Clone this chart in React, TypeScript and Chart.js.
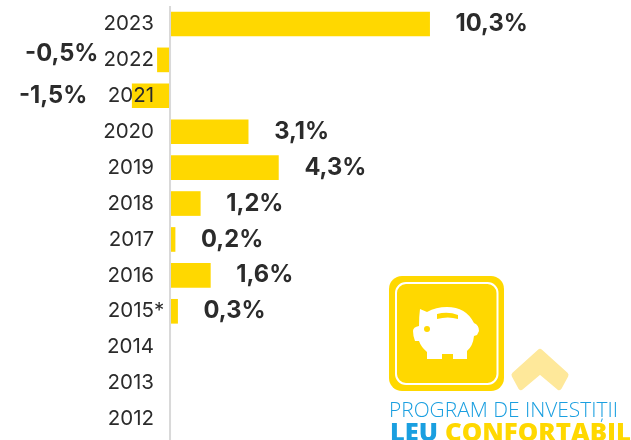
import React, { useEffect, useRef } from "react";
import { Chart, registerables } from "chart.js";

Chart.register(...registerables);

const years = ["2023", "2022", "2021", "2020", "2019", "2018", "2017", "2016", "2015*", "2014", "2013", "2012"];
const growth = [10.3, -0.5, -1.5, 3.1, 4.3, 1.2, 0.2, 1.6, 0.3, null, null, null];
const valueLabels = ["10,3%", "-0,5%", "-1,5%", "3,1%", "4,3%", "1,2%", "0,2%", "1,6%", "0,3%", "", "", ""];

const YELLOW = "#ffd800";
const INK = "#2b2b2b";
const BLUE = "#1a9fe0";
const FONT = "Inter, 'Noto Sans', sans-serif";

const labelsPlugin = {
  id: "chartLabels",
  afterDatasetsDraw(chart: any) {
    const { ctx, scales } = chart;
    const zeroX = scales.x.getPixelForValue(0);
    ctx.save();

    // axis line
    ctx.strokeStyle = "#d9d9d9";
    ctx.lineWidth = 2;
    ctx.beginPath();
    ctx.moveTo(zeroX, 6);
    ctx.lineTo(zeroX, 440);
    ctx.stroke();

    // category labels: digits right-aligned, a footnote star hangs past the edge
    ctx.font = `400 20.5px ${FONT}`;
    ctx.fillStyle = INK;
    ctx.textBaseline = "middle";
    ctx.textAlign = "left";
    years.forEach((year, i) => {
      const digitsWidth = ctx.measureText(year.replace("*", "")).width;
      ctx.fillText(year, zeroX - 16 - digitsWidth, scales.y.getPixelForValue(i));
    });

    // value labels
    ctx.font = `700 23.7px ${FONT}`;
    const meta = chart.getDatasetMeta(0);
    meta.data.forEach((bar: any, i: number) => {
      const v = growth[i];
      if (v === null) return;
      if (v >= 0) {
        ctx.textAlign = "left";
        ctx.fillText(valueLabels[i], bar.x + 26, bar.y);
      } else {
        ctx.textAlign = "right";
        const gap = v < -1 ? 45 : 59;
        ctx.fillText(valueLabels[i], bar.x - gap, bar.y - (v < -1 ? 0 : 6));
      }
    });
    ctx.restore();
  },
};

function Logo() {
  return (
    <svg
      width={631}
      height={440}
      viewBox="0 0 631 440"
      style={{ position: "absolute", left: 0, top: 0, pointerEvents: "none" }}
    >
      <rect x={389} y={276} width={115} height={115} rx={13} fill={YELLOW} />
      <rect x={396} y={283} width={101.5} height={101} rx={10} fill="none" stroke="#fff" strokeWidth={2} />
      <path
        d="M420 309 L427 312 Q436 307 447 307 Q466 307 474 323 Q479 325 479 331 L477 335 L474 336 Q473 346 467 351 L467 359 L453 359 L453 354 L442 354 L442 359 L427 359 L427 352 Q421 347 419 341 L415 341 Q413 336 413 331 Q413 327 419 326 Q419 316 420 309 Z"
        fill="#fff"
      />
      <path d="M437 314 Q448 311 458 315 L458 319 Q448 316 437 319 Z" fill={YELLOW} />
      <circle cx={427} cy={329} r={3} fill={YELLOW} />
      <path
        d="M540 352 L565.5 375 L559 387 L540 371 L521 387 L514.5 375 Z"
        fill="#fee89a"
        stroke="#fee89a"
        strokeWidth={6}
        strokeLinejoin="round"
      />
      <text x={389} y={417} fontFamily="'Open Sans', sans-serif" fontWeight={300} fontSize={21} fill={BLUE} textLength={229} lengthAdjust="spacingAndGlyphs">
        PROGRAM DE INVESTIȚII
      </text>
      <text x={390} y={441} fontFamily="'Open Sans', sans-serif" fontWeight={800} fontSize={25} fill={BLUE} textLength={48} lengthAdjust="spacingAndGlyphs">
        LEU
      </text>
      <text x={445} y={441} fontFamily="'Open Sans', sans-serif" fontWeight={800} fontSize={25} fill={YELLOW} textLength={186} lengthAdjust="spacingAndGlyphs">
        CONFORTABIL
      </text>
    </svg>
  );
}

export default function App() {
  const ref = useRef<HTMLCanvasElement>(null);

  useEffect(() => {
    const chart = new Chart(ref.current!, {
      type: "bar",
      data: {
        labels: years,
        datasets: [
          {
            data: growth as any,
            backgroundColor: YELLOW,
            barThickness: 24,
            borderWidth: 0,
          },
        ],
      },
      plugins: [labelsPlugin],
      options: {
        indexAxis: "y",
        animation: false,
        responsive: false,
        layout: { padding: { top: 6, bottom: 3, left: 0, right: 0 } },
        plugins: { legend: { display: false }, tooltip: { enabled: false } },
        scales: {
          x: { type: "linear", display: false, min: -6.746, max: 18.29 },
          y: { display: false },
        },
      } as any,
    });
    return () => chart.destroy();
  }, []);

  return (
    <div style={{ position: "absolute", left: 0, top: 0, width: 631, height: 440, overflow: "hidden", background: "#fff" }}>
      <canvas ref={ref} width={631} height={440} style={{ display: "block" }} />
      <Logo />
    </div>
  );
}
